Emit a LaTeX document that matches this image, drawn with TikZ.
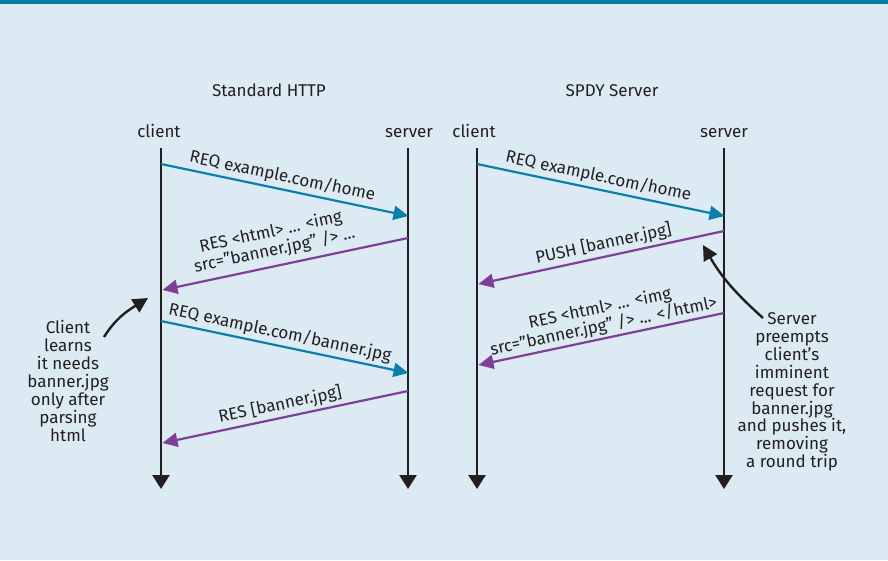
\documentclass[tikz,border=0pt]{standalone}
\usepackage{fontspec}
\setmainfont{Fira Sans}
\usetikzlibrary{arrows.meta}
\definecolor{bgblue}{HTML}{DBEAF3}
\definecolor{barblue}{HTML}{0479A6}
\definecolor{reqblue}{HTML}{0A7FA8}
\definecolor{respurple}{HTML}{7E3F98}
\definecolor{ink}{HTML}{231F20}
\begin{document}
\begin{tikzpicture}[x=1pt,y=-1pt,
  every node/.style={text=ink, font=\fontsize{17}{18.5}\selectfont},
  heading/.style={anchor=base},
  lifeline/.style={draw=ink, line width=2.6pt, -{Triangle[length=14pt,width=17pt]}},
  req/.style={draw=reqblue, line width=2.2pt, -{Triangle[length=15pt,width=14pt]}},
  res/.style={draw=respurple, line width=2.2pt, -{Triangle[length=15pt,width=14pt]}},
  msglabel/.style={sloped, above=2pt, inner sep=1pt, align=center},
  annot/.style={draw=ink, line width=2.4pt, -{Triangle[length=15pt,width=15pt]}},
  note/.style={align=center, font=\fontsize{17}{17.9}\selectfont}]
% page and top rule
\useasboundingbox (0,0) rectangle (888,560);
\fill[bgblue] (0,0) rectangle (888,560);
\fill[barblue] (0,0) rectangle (888,4);

% titles
\node[heading] (t1) at (269,96) {Standard HTTP};
\node[heading] (t2) at (612,96) {SPDY Server};

% lifeline headers
\node[heading] (hc1) at (159,137.5) {client};
\node[heading] (hs1) at (409,137.5) {server};
\node[heading] (hc2) at (474,137.5) {client};
\node[heading] (hs2) at (724,137.5) {server};

% lifelines
\coordinate (c1top) at (161,148); \coordinate (c1bot) at (161,489);
\coordinate (s1top) at (408,148); \coordinate (s1bot) at (408,489);
\coordinate (c2top) at (477,148); \coordinate (c2bot) at (477,489);
\coordinate (s2top) at (724,148); \coordinate (s2bot) at (724,489);
\draw[lifeline] (c1top) -- (c1bot);
\draw[lifeline] (s1top) -- (s1bot);
\draw[lifeline] (c2top) -- (c2bot);
\draw[lifeline] (s2top) -- (s2bot);

% message end points, standard HTTP
\coordinate (a1) at (161,164); \coordinate (b1) at (408.5,216);
\coordinate (a2) at (408,238); \coordinate (b2) at (162.5,290);
\coordinate (a3) at (161,321); \coordinate (b3) at (408.5,373);
\coordinate (a4) at (408,391); \coordinate (b4) at (162.5,443);
% message end points, SPDY
\coordinate (a5) at (477,164); \coordinate (b5) at (724.5,216);
\coordinate (a6) at (724,231); \coordinate (b6) at (478.5,284);
\coordinate (a7) at (724,313); \coordinate (b7) at (478.5,365);

\draw[req] (a1) -- (b1) node[msglabel, pos=0.48] {REQ example.com/home};
\draw[res] (a2) -- (b2) node[msglabel, pos=0.53, above=3pt] {RES <html> ... <img\\src="banner.jpg" /> ...};
\draw[req] (a3) -- (b3) node[msglabel, pos=0.47] {REQ example.com/banner.jpg};
\draw[res] (a4) -- (b4) node[msglabel, pos=0.51] {RES [banner.jpg]};

\draw[req] (a5) -- (b5) node[msglabel, pos=0.48] {REQ example.com/home};
\draw[res] (a6) -- (b6) node[msglabel, pos=0.48, above=0pt] {PUSH [banner.jpg]};
\draw[res] (a7) -- (b7) node[msglabel, pos=0.48, above=-1pt] {RES <html> ... <img\\src="banner.jpg" /> ... </html>};

% annotations
\node[note] (n1) at (68,381) {Client\\learns\\it needs\\banner.jpg\\only after\\parsing\\html};
\coordinate (n1s) at (104,337); \coordinate (n1t) at (148,298);
\draw[annot] (n1s) to[out=58,in=212] (n1t);

\node[note] (n2) at (792,392) {Server\\preempts\\client's\\imminent\\request for\\banner.jpg\\and pushes it,\\removing\\a round trip};
\coordinate (n2s) at (763,318); \coordinate (n2t) at (703,245);
\draw[annot] (n2s) to[out=138,in=-60] (n2t);
\end{tikzpicture}
\end{document}
